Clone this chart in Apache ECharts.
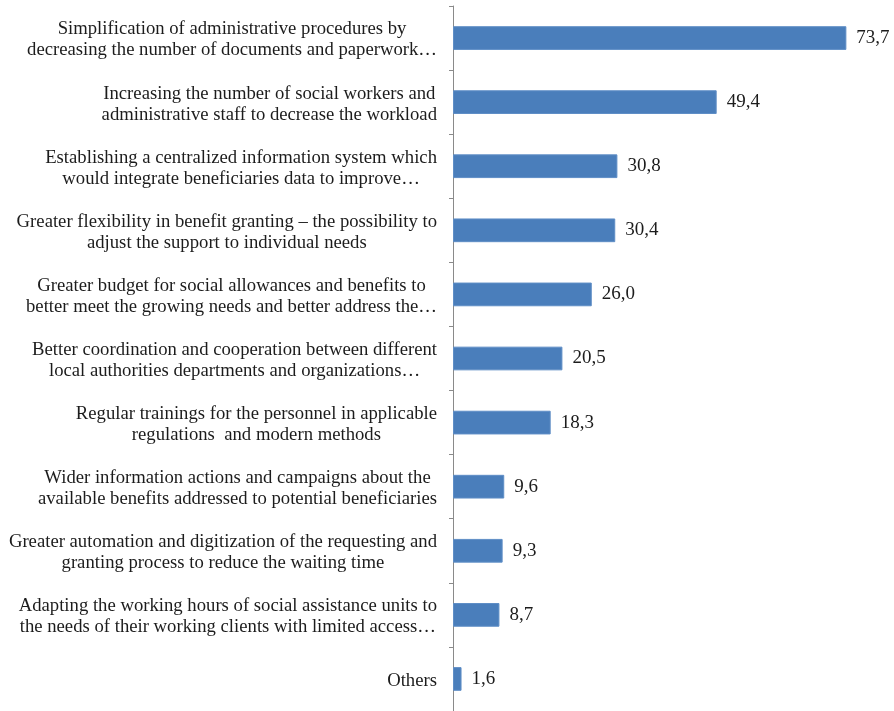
<!DOCTYPE html>
<html>
<head>
<meta charset="utf-8">
<script src="https://cdn.jsdelivr.net/npm/echarts@6/dist/echarts.min.js"></script>
<style>html,body{margin:0;padding:0;background:#fff}#c{width:894px;height:711px}</style>
</head>
<body>
<div id="c"></div>
<script>
const categories = [
  "Simplification of administrative procedures by\ndecreasing the number of documents and paperwork…",
  "Increasing the number of social workers and\nadministrative staff to decrease the workload",
  "Establishing a centralized information system which\nwould integrate beneficiaries data to improve…",
  "Greater flexibility in benefit granting – the possibility to\nadjust the support to individual needs",
  "Greater budget for social allowances and benefits to\nbetter meet the growing needs and better address the…",
  "Better coordination and cooperation between different\nlocal authorities departments and organizations…",
  "Regular trainings for the personnel in applicable\nregulations  and modern methods",
  "Wider information actions and campaigns about the\navailable benefits addressed to potential beneficiaries",
  "Greater automation and digitization of the requesting and\ngranting process to reduce the waiting time",
  "Adapting the working hours of social assistance units to\nthe needs of their working clients with limited access…",
  "Others"
];
const values = [73.7, 49.4, 30.8, 30.4, 26.0, 20.5, 18.3, 9.6, 9.3, 8.7, 1.6];

const FONT = '"Liberation Serif", "Times New Roman", serif';
const chart = echarts.init(document.getElementById('c'), null, {renderer: 'canvas'});
chart.setOption({
  animation: false,
  backgroundColor: '#ffffff',
  grid: {left: 453, right: 14, top: 6, height: 707, containLabel: false},
  xAxis: {
    type: 'value', min: 0, max: 80, show: false,
    splitLine: {show: false}
  },
  yAxis: {
    type: 'category', inverse: true, data: categories,
    axisLine: {show: true, lineStyle: {color: '#8a8a8a', width: 1}},
    axisTick: {show: true, length: 4, alignWithLabel: false, lineStyle: {color: '#8a8a8a'}},
    axisLabel: {
      margin: 16,
      align: 'right',
      interval: 0,
      padding: [4, 0, 0, 0],
      formatter: function (v) {
        return v.split('\n').map(function (l) { return '{c|' + l + '}'; }).join('\n');
      },
      rich: {
        c: {align: 'center', fontFamily: FONT, fontSize: 18.7, lineHeight: 21, color: '#1c1c1c'}
      }
    }
  },
  series: [{
    type: 'bar',
    data: values,
    barCategoryGap: '63%',
    itemStyle: {color: '#4a7ebb', borderColor: '#5f8ec6', borderWidth: 1},
    label: {
      show: true, position: 'right', distance: 10,
      fontFamily: FONT, fontSize: 19, color: '#1c1c1c',
      formatter: function (p) { return p.value.toFixed(1).replace('.', ','); }
    }
  }]
});
</script>
</body>
</html>
